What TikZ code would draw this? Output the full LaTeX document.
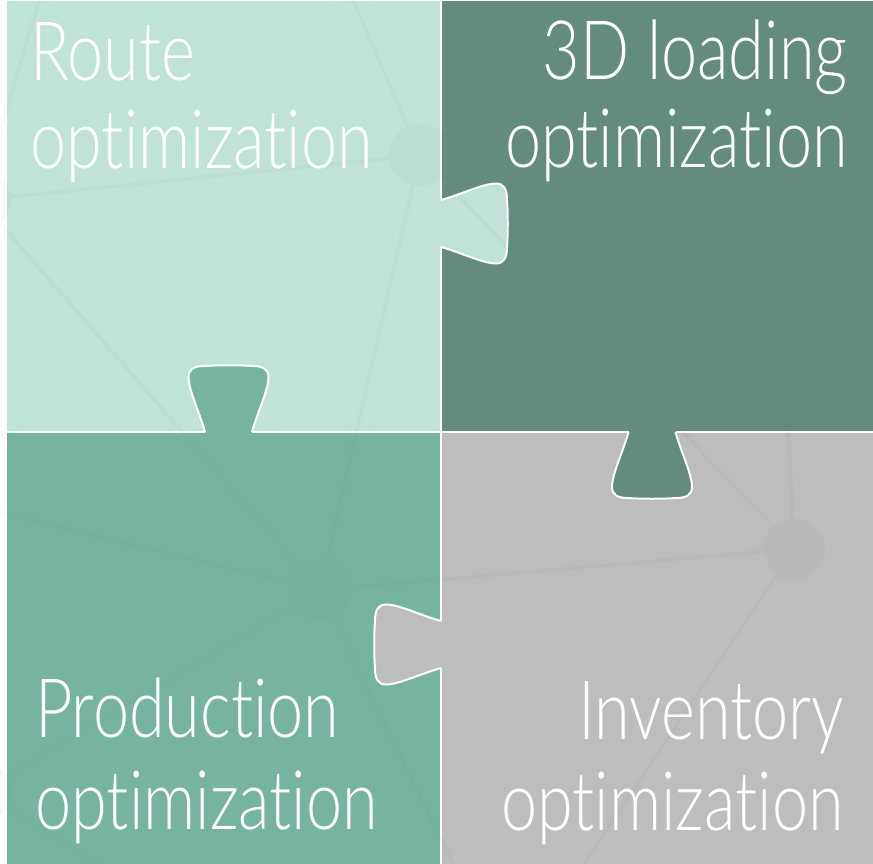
\documentclass[tikz,border=0pt]{standalone}
\usepackage{fontspec}
\setmainfont{Lato}[UprightFont={* Light}, FakeStretch=0.79, Ligatures=NoCommon]
\usetikzlibrary{positioning}

\definecolor{routecol}{RGB}{193,226,217}
\definecolor{loadcol}{RGB}{99,139,126}
\definecolor{prodcol}{RGB}{118,180,161}
\definecolor{invcol}{RGB}{189,189,189}
\definecolor{netcol}{RGB}{110,140,130}

\tikzstyle{Label} = [text=white, inner sep=0pt, font=\fontsize{82bp}{88bp}\selectfont]
\tikzstyle{Seam} = [draw=white, line width=1.5bp]
\tikzstyle{TabEdge} = [draw=white, line width=2bp]
\tikzstyle{Net} = [line width=4bp, netcol]

\newcommand{\Tab}[4]{%
  \fill[#1, shift={(#2,#3)}, rotate=#4] (-1.5,-23.5) rectangle (1,23.5);
  \filldraw[TabEdge, fill=#1, shift={(#2,#3)}, rotate=#4]
    (0,23.5) .. controls (20,29) and (42,40) .. (55,40)
    .. controls (63,40) and (66,34) .. (66,24)
    .. controls (67,10) and (67,-10) .. (66,-24)
    .. controls (66,-34) and (63,-40) .. (55,-40)
    .. controls (42,-40) and (20,-29) .. (0,-23.5);}

\begin{document}
\begin{tikzpicture}[x=1bp, y=-1bp]
  \useasboundingbox (0,0) rectangle (873,864);
  % pieces
  \fill[routecol] (7,1.5) rectangle (441,432);
  \fill[loadcol]  (441,1.5) rectangle (873,432);
  \fill[prodcol]  (7,432) rectangle (441,864);
  \fill[invcol]   (441,432) rectangle (873,864);
  \draw[Seam] (441,1.5) -- (441,864);
  \draw[Seam] (7,432) -- (873,432);
  % tabs
  \Tab{routecol}{441}{223.5}{0}
  \Tab{prodcol}{228.5}{432}{90}
  \Tab{loadcol}{652}{432}{-90}
  \Tab{invcol}{441}{644.5}{180}
  % faint network behind
  \coordinate (hubA) at (-20,200);
  \coordinate (hubB) at (420,155);
  \coordinate (hubC) at (320,590);
  \coordinate (hubD) at (794,549);
  \coordinate (hubE) at (-20,792);
  \coordinate (endA) at (48,-30);
  \coordinate (endB) at (340,-30);
  \coordinate (endC) at (-20,508);
  \coordinate (endCb) at (480,920);
  \coordinate (endD) at (779,240);
  \coordinate (endDb) at (560,900);
  \coordinate (endE) at (160,900);
  \begin{scope}[transparency group, opacity=0.05]
    \draw[Net] (hubA) -- (endA);
    \draw[Net] (hubA) -- (hubB);
    \draw[Net] (hubA) -- (hubC);
    \draw[Net] (hubB) -- (endB);
    \draw[Net] (hubB) -- (hubC);
    \draw[Net] (hubB) -- (hubD);
    \draw[Net] (hubC) -- (hubD);
    \draw[Net] (hubC) -- (endC);
    \draw[Net] (hubC) -- (hubE);
    \draw[Net] (hubC) -- (endCb);
    \draw[Net] (hubD) -- (endD);
    \draw[Net] (hubD) -- (endDb);
    \draw[Net] (hubE) -- (endE);
    \foreach \h in {hubA,hubB,hubC,hubD,hubE}
      \fill[netcol] (\h) circle (31);
  \end{scope}
  % labels
  \node[Label, anchor=base west] (route)    at (30,80)   {Route};
  \node[Label, anchor=base west] (routeopt) at (30,168)  {optimization};
  \node[Label, anchor=base east] (load)     at (848,79)  {3D loading};
  \node[Label, anchor=base east] (loadopt)  at (848,167) {optimization};
  \node[Label, anchor=base west] (prod)     at (35,737)  {Production};
  \node[Label, anchor=base west] (prodopt)  at (35,829)  {optimization};
  \node[Label, anchor=base east] (inv)      at (844,739) {Inventory};
  \node[Label, anchor=base east] (invopt)   at (844,830) {optimization};
\end{tikzpicture}
\end{document}
